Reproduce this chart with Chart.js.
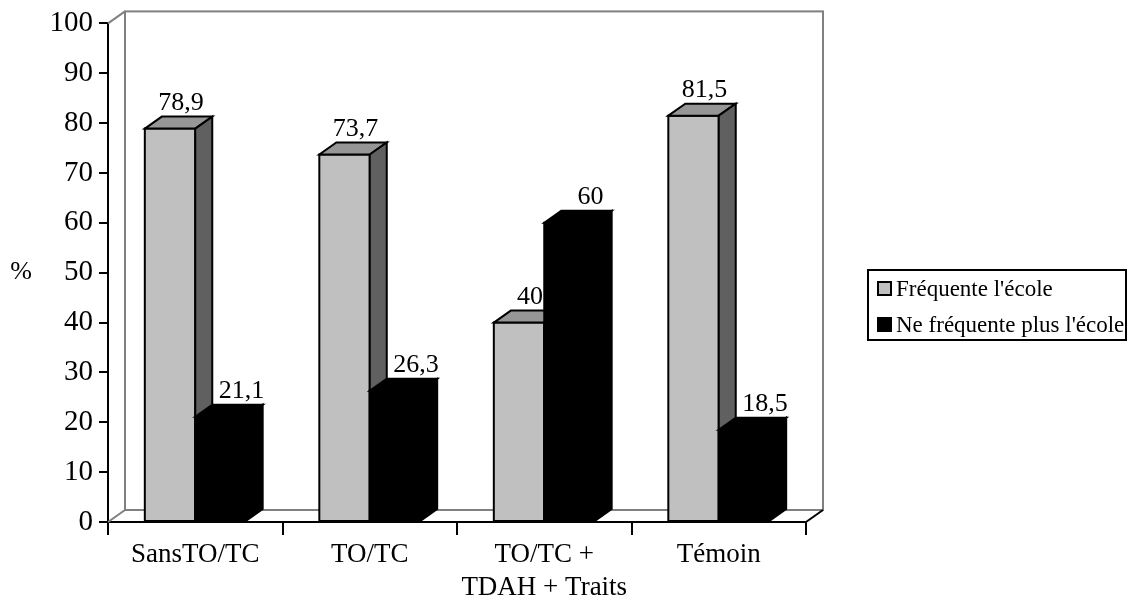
<!DOCTYPE html>
<html>
<head>
<meta charset="utf-8">
<script src="https://cdn.jsdelivr.net/npm/chart.js@4/dist/chart.umd.min.js"></script>
<style>
  html, body { margin: 0; padding: 0; background: #fff; }
  #wrap { position: relative; width: 1128px; height: 603px; }
  canvas { display: block; }
</style>
</head>
<body>
<div id="wrap"><canvas id="c" width="1128" height="603"></canvas></div>
<script>
// Categories and series
const categories = ['SansTO/TC', 'TO/TC', ['TO/TC +', 'TDAH + Traits'], 'Témoin'];
const seriesNames = ['Fréquente l\'école', 'Ne fréquente plus l\'école'];
const frequente = [78.9, 73.7, 40, 81.5];
const neFrequentePlus = [21.1, 26.3, 60, 18.5];
const yTicks = [0, 10, 20, 30, 40, 50, 60, 70, 80, 90, 100];

const SERIF = '"Liberation Serif", "Times New Roman", serif';

// 3D depth offset of the bars and the back wall
const DEPTH_X = 17;
const DEPTH_Y = -12;

// face colours per series: front, top, side
const faceColors = [
  { front: '#C0C0C0', top: '#969696', side: '#606060' },
  { front: '#000000', top: '#000000', side: '#000000' }
];
// horizontal nudge of the value labels per series
const labelShift = [-6, 4];

const fmt = v => String(v).replace('.', ',');

const box3d = {
  id: 'box3d',
  beforeDatasetsDraw(chart) {
    const { ctx, chartArea: a } = chart;
    ctx.save();
    ctx.lineWidth = 2;
    ctx.strokeStyle = '#808080';
    // back wall
    ctx.strokeRect(a.left + DEPTH_X, a.top + DEPTH_Y, a.right - a.left, a.bottom - a.top);
    ctx.beginPath();
    ctx.moveTo(a.left, a.top); ctx.lineTo(a.left + DEPTH_X, a.top + DEPTH_Y);
    ctx.moveTo(a.left, a.bottom); ctx.lineTo(a.left + DEPTH_X, a.bottom + DEPTH_Y);
    ctx.stroke();
    // right edge of the floor
    ctx.strokeStyle = '#000';
    ctx.beginPath();
    ctx.moveTo(a.right, a.bottom); ctx.lineTo(a.right + DEPTH_X, a.bottom + DEPTH_Y);
    ctx.stroke();
    ctx.restore();
  },
  afterDatasetsDraw(chart) {
    const { ctx } = chart;
    ctx.save();
    ctx.lineWidth = 2;
    ctx.lineJoin = 'miter';
    ctx.strokeStyle = '#000';
    const nCat = categories.length;
    for (let i = 0; i < nCat; i++) {
      chart.data.datasets.forEach((ds, di) => {
        const el = chart.getDatasetMeta(di).data[i];
        const c = faceColors[di];
        const l = el.x - el.width / 2, r = el.x + el.width / 2;
        const t = el.y, b = el.base;
        // front face
        ctx.fillStyle = c.front;
        ctx.beginPath();
        ctx.rect(l, t, r - l, b - t);
        ctx.fill(); ctx.stroke();
        // top face
        ctx.fillStyle = c.top;
        ctx.beginPath();
        ctx.moveTo(l, t); ctx.lineTo(l + DEPTH_X, t + DEPTH_Y);
        ctx.lineTo(r + DEPTH_X, t + DEPTH_Y); ctx.lineTo(r, t); ctx.closePath();
        ctx.fill(); ctx.stroke();
        // side face
        ctx.fillStyle = c.side;
        ctx.beginPath();
        ctx.moveTo(r, t); ctx.lineTo(r + DEPTH_X, t + DEPTH_Y);
        ctx.lineTo(r + DEPTH_X, b + DEPTH_Y); ctx.lineTo(r, b); ctx.closePath();
        ctx.fill(); ctx.stroke();
      });
    }
    // value labels above the back edge of each bar top
    ctx.fillStyle = '#000';
    ctx.font = '26px ' + SERIF;
    ctx.textAlign = 'center';
    ctx.textBaseline = 'alphabetic';
    chart.data.datasets.forEach((ds, di) => {
      chart.getDatasetMeta(di).data.forEach((el, i) => {
        ctx.fillText(fmt(ds.data[i]), el.x + DEPTH_X + labelShift[di], el.y + DEPTH_Y - 7);
      });
    });
    ctx.restore();
  },
  afterDraw(chart) {
    const { ctx } = chart;
    ctx.save();
    // axis unit
    ctx.fillStyle = '#000';
    ctx.font = '26px ' + SERIF;
    ctx.textAlign = 'center';
    ctx.textBaseline = 'middle';
    ctx.fillText('%', 21, 272);
    // legend
    const lx = 868, ly = 270, lw = 258, lh = 70;
    ctx.lineWidth = 2;
    ctx.strokeStyle = '#000';
    ctx.strokeRect(lx, ly, lw, lh);
    ctx.font = '23px ' + SERIF;
    ctx.textAlign = 'left';
    ctx.textBaseline = 'alphabetic';
    chart.data.datasets.forEach((ds, di) => {
      const my = 282 + di * 36;
      ctx.fillStyle = faceColors[di].front;
      ctx.fillRect(878, my, 13, 13);
      ctx.strokeRect(878, my, 13, 13);
      ctx.fillStyle = '#000';
      ctx.fillText(ds.label, 896, my + 14);
    });
    ctx.restore();
  }
};

new Chart(document.getElementById('c'), {
  type: 'bar',
  data: {
    labels: categories,
    datasets: [
      { label: seriesNames[0], data: frequente, backgroundColor: faceColors[0].front, borderColor: '#000', borderWidth: 2 },
      { label: seriesNames[1], data: neFrequentePlus, backgroundColor: faceColors[1].front, borderColor: '#000', borderWidth: 2 }
    ]
  },
  options: {
    responsive: false,
    devicePixelRatio: 1,
    animation: false,
    events: [],
    layout: { padding: { top: 21, right: 322, bottom: 0, left: 0 } },
    datasets: { bar: { categoryPercentage: 0.578, barPercentage: 1 } },
    plugins: { legend: { display: false }, tooltip: { enabled: false } },
    scales: {
      x: {
        offset: true,
        grid: { offset: true, drawOnChartArea: false, drawTicks: true, tickLength: 13, color: '#000', lineWidth: 2 },
        border: { display: true, color: '#000', width: 2 },
        ticks: { color: '#000', font: { family: SERIF, size: 27 }, padding: 4, maxRotation: 0, autoSkip: false },
        afterFit(scale) { scale.height = 81; }
      },
      y: {
        min: 0, max: 100,
        afterBuildTicks(scale) { scale.ticks = yTicks.map(v => ({ value: v })); },
        grid: { drawOnChartArea: false, drawTicks: true, tickLength: 9, color: '#000', lineWidth: 2 },
        border: { display: true, color: '#000', width: 2 },
        ticks: { color: '#000', font: { family: SERIF, size: 29 }, padding: 6 },
        afterFit(scale) { scale.width = 108; }
      }
    }
  },
  plugins: [box3d]
});
</script>
</body>
</html>
